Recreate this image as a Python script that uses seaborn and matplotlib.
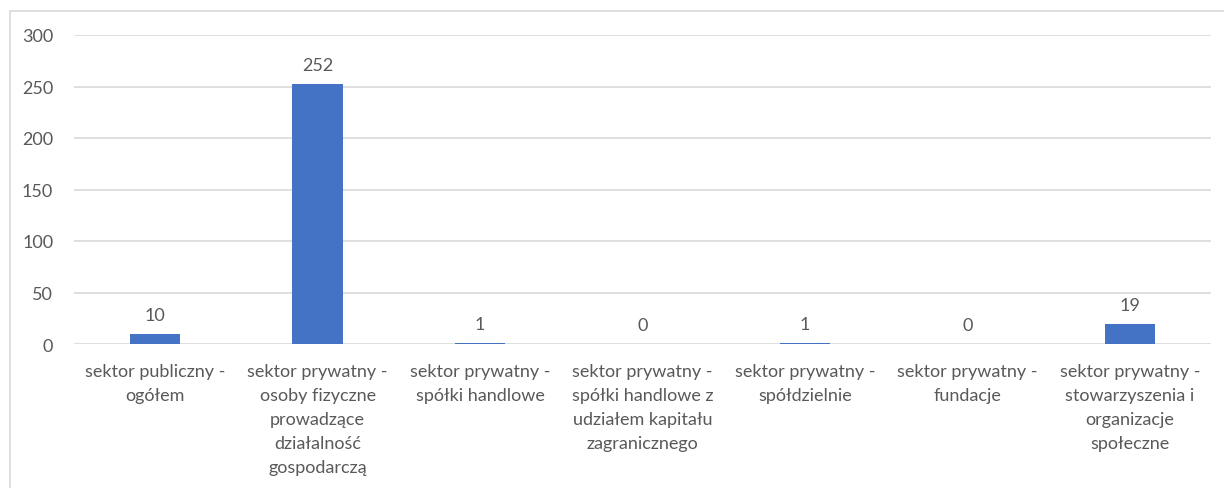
import numpy as np
import pandas as pd
import matplotlib
matplotlib.use('Agg')
import matplotlib.pyplot as plt
import matplotlib.patches as patches
import seaborn as sns

# dane
kategorie = [
    'sektor publiczny - ogółem',
    'sektor prywatny - osoby fizyczne prowadzące działalność gospodarczą',
    'sektor prywatny - spółki handlowe',
    'sektor prywatny - spółki handlowe z udziałem kapitału zagranicznego',
    'sektor prywatny - spółdzielnie',
    'sektor prywatny - fundacje',
    'sektor prywatny - stowarzyszenia i organizacje społeczne',
]
etykiety = [
    'sektor publiczny -\nogółem',
    'sektor prywatny -\nosoby fizyczne\nprowadzące\ndziałalność\ngospodarczą',
    'sektor prywatny -\nspółki handlowe',
    'sektor prywatny -\nspółki handlowe z\nudziałem kapitału\nzagranicznego',
    'sektor prywatny -\nspółdzielnie',
    'sektor prywatny -\nfundacje',
    'sektor prywatny -\nstowarzyszenia i\norganizacje\nspołeczne',
]
wartosci = [10, 252, 1, 0, 1, 0, 19]
y_ticks = [0, 50, 100, 150, 200, 250, 300]

df = pd.DataFrame({'kategoria': kategorie, 'liczba': wartosci})

sns.set_style('white')
plt.rcParams['font.family'] = ['Lato', 'DejaVu Sans']
szary = '#595959'
linia = '#D9D9D9'
fs = 13

fig = plt.figure(figsize=(12.24, 4.89), dpi=100)
ax = fig.add_axes([74 / 1224, 1 - 345 / 489, (1211 - 74) / 1224, (345 - 36) / 489])

sns.barplot(data=df, x='kategoria', y='liczba', color='#4472C4', width=0.31,
            saturation=1, linewidth=0, ax=ax, zorder=3)

ax.bar_label(ax.containers[0], labels=[str(v) for v in wartosci], padding=8,
             fontsize=fs, color=szary)

ax.set_ylim(0, 300)
ax.set_yticks(y_ticks)
ax.set_xlim(-0.5, len(kategorie) - 0.5)
ax.set_xticks(range(len(kategorie)))
ax.set_xticklabels(etykiety, fontsize=fs, color=szary, linespacing=1.6)
ax.tick_params(axis='y', labelsize=fs, labelcolor=szary, length=0, pad=15)
ax.tick_params(axis='x', length=0, pad=14)
ax.set_xlabel('')
ax.set_ylabel('')

ax.yaxis.grid(True, color=linia, linewidth=1.2, zorder=0)
ax.set_axisbelow(True)
for s in ax.spines.values():
    s.set_visible(False)

# ramka wykresu
ramka = patches.Rectangle((10 / 1224, -0.1), 1.2, 1 - 12 / 489 + 0.1,
                          transform=fig.transFigure, fill=False,
                          edgecolor=linia, linewidth=1.2, clip_on=False)
fig.patches.append(ramka)

fig.savefig('out.png', dpi=100)
